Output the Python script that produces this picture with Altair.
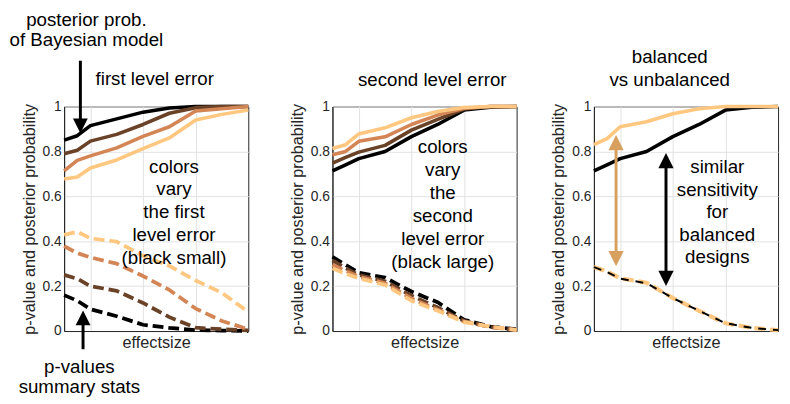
import altair as alt
import pandas as pd

# ---------------- data ----------------
effectsize = [0, 0.05, 0.1, 0.2, 0.3, 0.4, 0.5, 0.6, 0.7]

# panel 1: first level error (posterior prob. solid, p-values dashed)
p1_post_black = [0.85, 0.87, 0.915, 0.945, 0.975, 0.993, 1.0, 1.0, 1.0]
p1_post_dark = [0.79, 0.805, 0.846, 0.876, 0.92, 0.97, 0.995, 1.0, 1.0]
p1_post_mid = [0.713, 0.76, 0.78, 0.816, 0.867, 0.91, 0.98, 0.99, 1.0]
p1_post_light = [0.677, 0.686, 0.726, 0.762, 0.812, 0.86, 0.94, 0.965, 0.985]
p1_pval_black = [0.16, 0.135, 0.097, 0.066, 0.028, 0.014, 0.004, 0.002, 0.0]
p1_pval_dark = [0.25, 0.233, 0.2, 0.179, 0.125, 0.062, 0.015, 0.008, 0.003]
p1_pval_mid = [0.378, 0.347, 0.328, 0.3, 0.245, 0.183, 0.1, 0.045, 0.008]
p1_pval_light = [0.428, 0.442, 0.413, 0.398, 0.335, 0.29, 0.225, 0.17, 0.085]

# panel 2: second level error
p2_post_black = [0.713, 0.74, 0.768, 0.8, 0.866, 0.92, 0.984, 0.997, 1.0]
p2_post_dark = [0.748, 0.773, 0.797, 0.827, 0.895, 0.943, 0.989, 1.0, 1.0]
p2_post_mid = [0.785, 0.8, 0.845, 0.865, 0.92, 0.962, 0.992, 1.0, 1.0]
p2_post_light = [0.813, 0.83, 0.878, 0.905, 0.95, 0.978, 0.996, 1.0, 1.0]
p2_pval_black = [0.33, 0.295, 0.26, 0.238, 0.176, 0.128, 0.05, 0.02, 0.008]
p2_pval_dark = [0.315, 0.28, 0.25, 0.222, 0.158, 0.105, 0.045, 0.018, 0.005]
p2_pval_mid = [0.295, 0.268, 0.242, 0.213, 0.145, 0.095, 0.042, 0.018, 0.005]
p2_pval_light = [0.28, 0.255, 0.235, 0.205, 0.135, 0.09, 0.04, 0.02, 0.004]

# panel 3: balanced vs unbalanced
p3_post_black = [0.713, 0.74, 0.768, 0.8, 0.866, 0.92, 0.984, 0.997, 1.0]
p3_post_light = [0.83, 0.857, 0.91, 0.932, 0.968, 0.99, 1.0, 1.0, 1.0]
p3_pval_light = [0.285, 0.265, 0.235, 0.215, 0.147, 0.09, 0.035, 0.014, 0.004]
p3_pval_black = [0.285, 0.263, 0.233, 0.213, 0.147, 0.09, 0.035, 0.014, 0.004]

panel_titles = ["first level error", "second level error", "balanced\nvs unbalanced"]
panel_notes = ["colors\nvary\nthe first\nlevel error\n(black small)",
               "colors\nvary\nthe\nsecond\nlevel error\n(black large)",
               "similar\nsensitivity\nfor\nbalanced\ndesigns"]
top_note = "posterior prob.\nof Bayesian model"
bottom_note = "p-values\nsummary stats"
y_title = "p-value and posterior probability"
x_title = "effectsize"

# ---------------- styling ----------------
BLACK, DARK, MID, LIGHT = "#000000", "#6A4228", "#D48555", "#FFC77F"
TAN = "#D8A05E"
FONT = "Liberation Sans"
INK = "#262626"
W, H = 187, 228
XMAX = 0.7
DASH = [11, 5]

xs = alt.Scale(domain=[0, XMAX], nice=False, zero=False)
ys = alt.Scale(domain=[0, 1], nice=False, zero=False)
xaxis = alt.Axis(values=[0.1, 0.3, 0.5], labels=False, ticks=False, grid=True,
                 domain=True, title=x_title, titlePadding=4)
yaxis = alt.Axis(values=[0, 0.2, 0.4, 0.6, 0.8, 1], format=".1~f", ticks=False,
                 grid=True, domain=True, title=y_title, titlePadding=5, labelPadding=3)


def X():
    return alt.X("x:Q", scale=xs, axis=xaxis)


def Y():
    return alt.Y("y:Q", scale=ys, axis=yaxis)


def series(vals, color, dash=None, width=3.6):
    df = pd.DataFrame({"x": effectsize, "y": vals})
    props = dict(color=color, strokeWidth=width, strokeCap="butt", strokeJoin="round")
    if dash:
        props["strokeDash"] = dash
    return alt.Chart(df).mark_line(**props).encode(x=X(), y=Y())


def label(x, y, text, lh, size=19):
    df = pd.DataFrame({"x": [x], "y": [y], "t": [text]})
    return alt.Chart(df).mark_text(align="center", baseline="top", fontSize=size,
                                   lineHeight=lh, lineBreak="\n", font=FONT,
                                   color="black").encode(x=X(), y=Y(), text="t:N")


DOWN = "M-1,-1L1,-1L0,1Z"
UP = "M-1,1L1,1L0,-1Z"


def arrow(x, tail, tip, color, both=False, size=225, width=3):
    half = (size ** 0.5) / 2 / H
    sgn = 1 if tip > tail else -1
    tip_c = tip - sgn * half
    tail_c = tail + sgn * half if both else tail
    out = [alt.Chart(pd.DataFrame({"x": [x], "y": [tail_c], "y2": [tip_c]}))
           .mark_rule(color=color, strokeWidth=width)
           .encode(x=X(), y=Y(), y2="y2:Q")]
    heads = [(tip_c, UP if sgn > 0 else DOWN)]
    if both:
        heads.append((tail_c, DOWN if sgn > 0 else UP))
    for hy, shp in heads:
        out.append(alt.Chart(pd.DataFrame({"x": [x], "y": [hy]}))
                   .mark_point(shape=shp, size=size, filled=True, opacity=1,
                               color=color, strokeWidth=0)
                   .encode(x=X(), y=Y()))
    return out


def anchor(xl, xr, yt):
    df = pd.DataFrame({"x": [xl], "x2": [xr], "y": [yt], "y2": [yt]})
    return alt.Chart(df).mark_rule(opacity=0, strokeWidth=0.01).encode(
        x=X(), x2="x2:Q", y=Y(), y2="y2:Q")


Y_TOP = 1.4232

p1 = alt.layer(
    anchor(-0.2078, 0.7374, Y_TOP),
    series(p1_post_black, BLACK), series(p1_post_dark, DARK),
    series(p1_post_mid, MID), series(p1_post_light, LIGHT),
    series(p1_pval_black, BLACK, DASH, 3.8), series(p1_pval_dark, DARK, DASH, 3.8),
    series(p1_pval_mid, MID, DASH, 3.8), series(p1_pval_light, LIGHT, DASH, 3.8),
    label(0.0846, Y_TOP, top_note, 20.5),
    label(0.3444, 1.1636, panel_titles[0], 22),
    label(0.4175, 0.7715, panel_notes[0], 23.1),
    label(0.058, -0.1202, bottom_note, 21),
    *arrow(0.0618, 1.204, 0.8807, BLACK),
    *arrow(0.0719, -0.0811, 0.0912, BLACK),
).properties(width=W, height=H)

p2 = alt.layer(
    anchor(-0.1872, 0.7112, Y_TOP),
    series(p2_post_black, BLACK), series(p2_post_dark, DARK),
    series(p2_post_mid, MID), series(p2_post_light, LIGHT),
    series(p2_pval_black, BLACK, DASH, 3.8), series(p2_pval_dark, DARK, DASH, 3.8),
    series(p2_pval_mid, MID, DASH, 3.8), series(p2_pval_light, LIGHT, DASH, 3.8),
    label(0.3793, 1.1561, panel_titles[1], 22),
    label(0.4193, 0.8592, panel_notes[1], 23.3),
).properties(width=W, height=H)

p3 = alt.layer(
    anchor(-0.1872, 0.7112, Y_TOP),
    series(p3_post_black, BLACK), series(p3_post_light, LIGHT),
    series(p3_pval_light, LIGHT, DASH, 4.2),
    series(p3_pval_black, BLACK, [8, 7], 2),
    label(0.2883, 1.2614, panel_titles[2], 23.3),
    label(0.469, 0.7689, panel_notes[2], 22.8),
    *arrow(0.0842, 0.2886, 0.8737, TAN, both=True, size=240),
    *arrow(0.274, 0.2009, 0.793, BLACK, both=True, size=240),
).properties(width=W, height=H)

chart = alt.hconcat(p1, p2, p3, spacing=23.5).properties(padding=0).configure_view(
    stroke=INK, strokeWidth=1
).configure_axis(
    gridColor="#e2e2e2", gridWidth=1, domainColor=INK, domainWidth=1,
    labelFont=FONT, labelFontSize=14, labelColor=INK,
    titleFont=FONT, titleFontSize=16.5, titleColor=INK, titleFontWeight="normal",
)

chart.save("out.html", embed_options={"renderer": "svg", "actions": False})
